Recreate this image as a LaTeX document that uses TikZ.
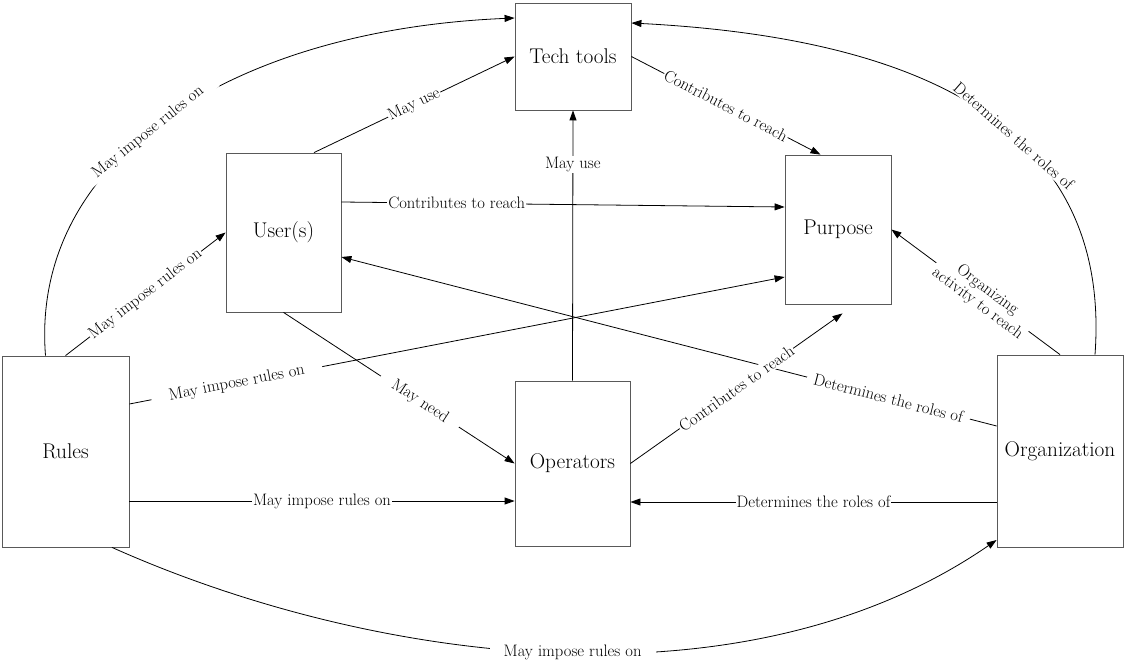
\documentclass[tikz,border=0pt]{standalone}
\usetikzlibrary{arrows.meta}
\tikzstyle{block}=[rectangle,draw=black!65,fill=white,inner sep=0mm,font=\fontsize{21.3}{24}\selectfont]
\tikzstyle{lbl}=[fill=white,inner sep=1pt,font=\fontsize{16.6}{17}\selectfont]
\tikzstyle{arrow}=[-{Triangle[length=10pt,width=7pt]}]
\tikzset{every picture/.style={
    line width=0.8pt
  }
}
\begin{document}
\begin{tikzpicture}[x=1pt,y=-1pt]
      \useasboundingbox (0,0) rectangle (1124,663);
      \node[block,minimum width=116pt,minimum height=107pt] at (573,56.5) (tech) {Tech tools};
      \node[block,minimum width=115pt,minimum height=159pt] at (283.5,232.5) (users) {User(s)};
      \node[block,minimum width=106pt,minimum height=149pt] at (838,229.5) (purpose) {Purpose};
      \node[block,minimum width=127pt,minimum height=191pt] at (65.5,451.5) (rules) {Rules};
      \node[block,minimum width=115pt,minimum height=165pt] at (572.5,463.5) (ops) {Operators};
      \node[block,minimum width=126pt,minimum height=192pt] at (1060,451) (org) {Organization};
      % towards tech tools
      \draw[arrow] ([xshift=30.5pt]users.north) -- (tech.west) node[lbl,sloped,pos=0.5] {May use};
      \draw[arrow] ([xshift=-20pt]rules.north) .. controls (30,160) and (230,30) .. ([yshift=38.5pt]tech.west) node[lbl,sloped,pos=0.46,inner xsep=16pt] {May impose rules on};
      \draw[arrow] (ops.north) -- (tech.south) node[lbl,pos=0.8] {May use};
      \draw[arrow] ([xshift=35pt]org.north) .. controls (1110,150) and (960,40) .. ([yshift=33.5pt]tech.east) node[lbl,sloped,pos=0.45,inner xsep=10pt] {Determines the roles of};
      % towards purpose
      \draw[arrow] ([yshift=30.5pt]users.east) -- ([yshift=22.5pt]purpose.west) node[lbl,pos=0.26] {Contributes to reach};
      \draw[arrow] (tech.east) -- ([xshift=-17.5pt]purpose.north) node[lbl,sloped,pos=0.5] {Contributes to reach};
      \draw[arrow] (org.north) -- (purpose.east) node[lbl,sloped,pos=0.46,align=center,inner xsep=3pt] {Organizing\\activity to reach};
      \draw[arrow] ([yshift=47.5pt]rules.east) -- ([yshift=-47.5pt]purpose.west) node[lbl,sloped,pos=0.164,inner xsep=18pt] {May impose rules on};
      % towards users
      \draw[arrow] (rules.north) -- (users.west) node[lbl,sloped,pos=0.5] {May impose rules on};
      \draw[arrow] ([yshift=25pt]org.west) -- ([yshift=-24.5pt]users.east) node[lbl,sloped,pos=0.165,inner xsep=7pt] {Determines the roles of};
      \draw[arrow] (ops.east) -- ([xshift=4.5pt,yshift=-9pt]purpose.south) node[lbl,sloped,pos=0.5] {Contributes to reach};
      % towards operators
      \draw[arrow] (users.south) -- (ops.west) node[lbl,sloped,pos=0.59,inner xsep=14pt] {May need};
      \draw[arrow] ([yshift=-49.5pt]rules.east) -- ([yshift=-37.5pt]ops.west) node[lbl,pos=0.5] {May impose rules on};
      \draw[arrow] ([yshift=-51pt]org.west) -- ([yshift=-38.5pt]ops.east) node[lbl,pos=0.5] {Determines the roles of};
      % towards organization
      \draw[arrow] ([xshift=46.5pt]rules.south) .. controls (366,661) and (741,716) .. ([yshift=-89pt]org.west) node[lbl,pos=0.52,inner xsep=14pt] {May impose rules on};
\end{tikzpicture}
\end{document}
